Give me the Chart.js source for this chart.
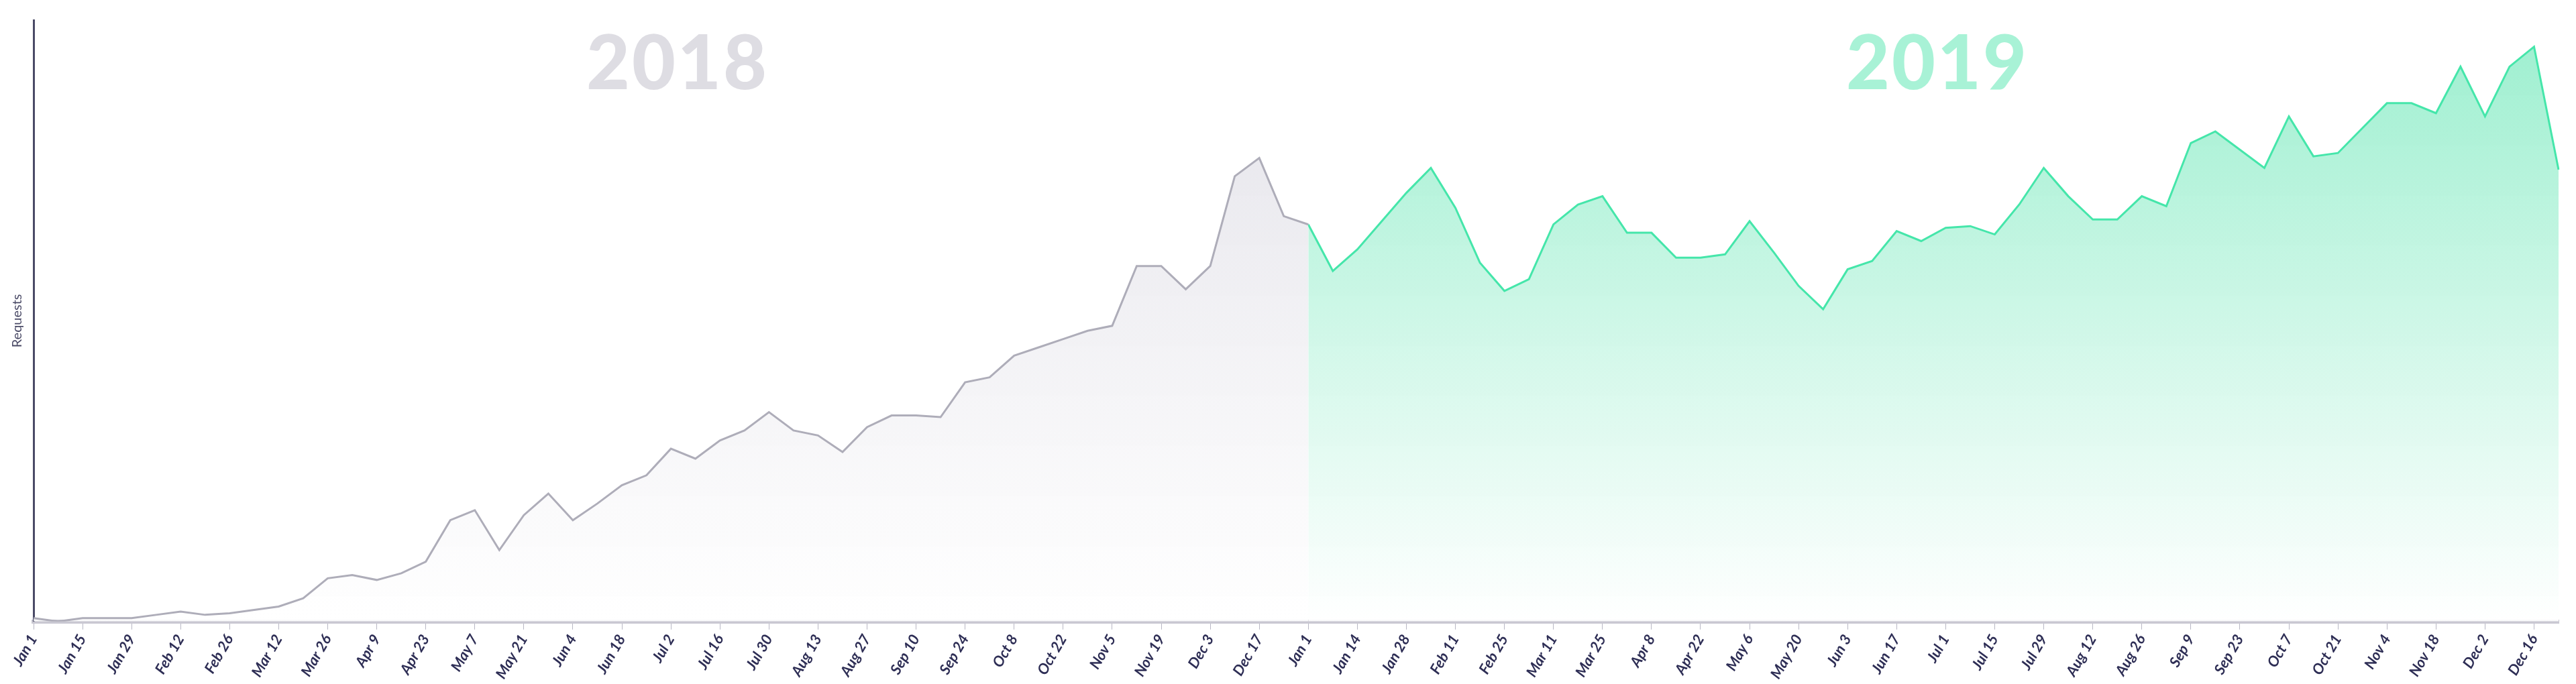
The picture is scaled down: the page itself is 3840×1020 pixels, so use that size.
<!DOCTYPE html>
<html>
<head>
<meta charset="utf-8">
<script src="https://cdn.jsdelivr.net/npm/chart.js@4"></script>
<style>
  body { margin: 0; background: #fff; }
  #wrap { position: relative; width: 3840px; height: 1020px; }
  .year { position: absolute; top: 22px; font-family: Lato, sans-serif; font-weight: 900; font-size: 112px; letter-spacing: 3px; }
</style>
</head>
<body>
<div id="wrap">
  <canvas id="requestsChart" width="3840" height="1020"></canvas>
  <div class="year" style="left:874px;color:#dedde3">2018</div>
  <div class="year" style="left:2752px;color:#a8f2d6">2019</div>
</div>
<script>
// Semanas (etiqueta cada lunes)
const weeks = [
  "Jan 1","Jan 8","Jan 15","Jan 22","Jan 29","Feb 5","Feb 12","Feb 19","Feb 26","Mar 5","Mar 12","Mar 19","Mar 26",
  "Apr 2","Apr 9","Apr 16","Apr 23","Apr 30","May 7","May 14","May 21","May 28","Jun 4","Jun 11","Jun 18","Jun 25",
  "Jul 2","Jul 9","Jul 16","Jul 23","Jul 30","Aug 6","Aug 13","Aug 20","Aug 27","Sep 3","Sep 10","Sep 17","Sep 24",
  "Oct 1","Oct 8","Oct 15","Oct 22","Oct 29","Nov 5","Nov 12","Nov 19","Nov 26","Dec 3","Dec 10","Dec 17","Dec 24",
  "Jan 1","Jan 7","Jan 14","Jan 21","Jan 28","Feb 4","Feb 11","Feb 18","Feb 25","Mar 4","Mar 11","Mar 18","Mar 25",
  "Apr 1","Apr 8","Apr 15","Apr 22","Apr 29","May 6","May 13","May 20","May 27","Jun 3","Jun 10","Jun 17","Jun 24",
  "Jul 1","Jul 8","Jul 15","Jul 22","Jul 29","Aug 5","Aug 12","Aug 19","Aug 26","Sep 2","Sep 9","Sep 16","Sep 23",
  "Sep 30","Oct 7","Oct 14","Oct 21","Oct 28","Nov 4","Nov 11","Nov 18","Nov 25","Dec 2","Dec 9","Dec 16","Dec 23"
];

// Peticiones 2018 (índices 0..52)
const requests2018 = [
  2,0,2,2,2,4,6,4,5,7,9,14,26,28,25,29,36,61,67,43,64,77,61,71,82,88,
  104,98,109,115,126,115,112,102,117,124,124,123,144,147,160,165,170,175,178,214,214,200,214,268,279,244,239
];
// Peticiones 2019 (índices 52..103)
const requests2019 = [
  239,211,224,241,258,273,249,216,199,206,239,251,256,234,234,219,219,221,241,222,202,188,212,217,235,229,
  237,238,233,251,273,256,242,242,256,250,288,295,284,273,304,280,282,297,312,312,306,334,304,334,346,272
];

const pad2018 = requests2018.concat(new Array(weeks.length - requests2018.length).fill(null));
const pad2019 = new Array(weeks.length - requests2019.length).fill(null).concat(requests2019);

function grad(ctx, top, bottom) {
  const area = ctx.chart.chartArea;
  if (!area) return top;
  const g = ctx.chart.ctx.createLinearGradient(0, area.top, 0, area.bottom);
  g.addColorStop(0, top);
  g.addColorStop(1, bottom);
  return g;
}

new Chart(document.getElementById("requestsChart"), {
  type: 'line',
  data: {
    labels: weeks,
    datasets: [{
      data: pad2018,
      borderColor: "#aeadb9",
      borderWidth: 3,
      backgroundColor: c => grad(c, "rgba(226,225,232,0.95)", "rgba(255,255,255,0.9)"),
      fill: 'origin',
      pointRadius: 0,
      tension: 0
    }, {
      data: pad2019,
      borderColor: "#45e6aa",
      borderWidth: 3,
      backgroundColor: c => grad(c, "rgba(150,238,204,0.95)", "rgba(255,255,255,0.9)"),
      fill: 'origin',
      pointRadius: 0,
      tension: 0
    }]
  },
  options: {
    responsive: false,
    animation: false,
    devicePixelRatio: 1,
    layout: { padding: { top: 30, right: 26, left: 10, bottom: 0 } },
    plugins: { legend: { display: false }, tooltip: { enabled: false } },
    scales: {
      x: {
        offset: false,
        border: { color: "#c9c8d2", width: 6 },
        grid: {
          drawOnChartArea: false,
          tickLength: 12,
          tickColor: c => c.index % 2 === 0 ? "#b8b7c4" : "rgba(0,0,0,0)"
        },
        ticks: {
          autoSkip: false,
          minRotation: 60,
          maxRotation: 60,
          color: "#2e2e55",
          font: { family: "Lato", size: 22, style: "italic", weight: "bold" },
          callback: function (v, i) { return i % 2 === 0 ? this.getLabelForValue(v) : ""; }
        }
      },
      y: {
        min: 0,
        max: 362,
        border: { color: "#4a4a66", width: 3 },
        grid: { display: false },
        ticks: { display: false },
        title: { display: true, text: "Requests", color: "#4a4a66", font: { family: "Lato", size: 20 }, padding: 4 }
      }
    }
  }
});
</script>
</body>
</html>
